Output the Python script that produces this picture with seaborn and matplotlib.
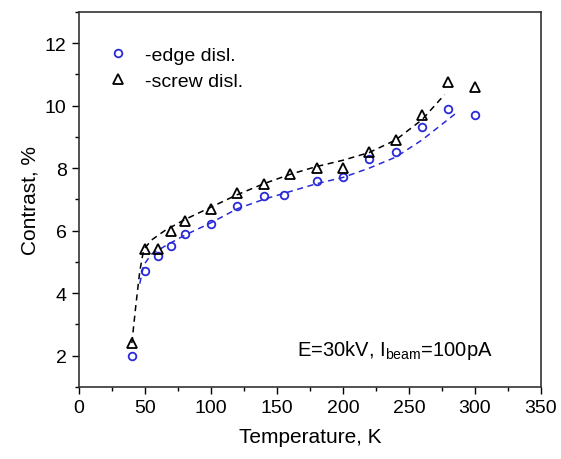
import pandas as pd
import matplotlib
matplotlib.use("Agg")
import matplotlib.pyplot as plt
import seaborn as sns
from matplotlib.ticker import MultipleLocator

# measured points
temp = [40, 50, 60, 70, 80, 100, 120, 140, 155, 180, 200, 220, 240, 260, 280, 300]
edge = [2.0, 4.7, 5.2, 5.5, 5.9, 6.2, 6.8, 7.1, 7.15, 7.6, 7.7, 8.3, 8.5, 9.3, 9.9, 9.7]
temp_s = [40, 50, 60, 70, 80, 100, 120, 140, 160, 180, 200, 220, 240, 260, 280, 300]
screw = [2.4, 5.4, 5.4, 6.0, 6.3, 6.7, 7.2, 7.5, 7.8, 8.0, 8.0, 8.5, 8.9, 9.7, 10.75, 10.6]

# dashed guide curves
fit_t_screw = [40, 43, 46, 49, 55, 65, 80, 100, 120, 140, 160, 180, 200, 220, 240, 260, 277]
fit_screw = [2.4, 3.6, 4.7, 5.4, 5.7, 6.0, 6.35, 6.75, 7.15, 7.5, 7.8, 8.05, 8.25, 8.5, 8.9, 9.55, 10.35]
fit_t_edge = [46, 49, 55, 65, 80, 100, 120, 140, 160, 180, 200, 220, 240, 260, 287]
fit_edge = [4.3, 4.9, 5.25, 5.5, 5.85, 6.25, 6.7, 7.0, 7.25, 7.5, 7.7, 8.0, 8.35, 8.9, 9.8]

sns.set_style("white")
plt.rcParams['font.family'] = ['Liberation Sans', 'DejaVu Sans']
plt.rcParams['text.color'] = 'black'
plt.rcParams['axes.labelcolor'] = 'black'
plt.rcParams['xtick.color'] = 'black'
plt.rcParams['ytick.color'] = 'black'

blue = "#2a2ad8"

fig = plt.figure(figsize=(5.61, 4.6), dpi=100)
ax = fig.add_axes([0.141, 0.157, 0.823, 0.815])

sns.lineplot(x=fit_t_screw, y=fit_screw, ax=ax, color="black", linestyle=(0, (4, 3)),
             linewidth=1.1, sort=False)
sns.lineplot(x=fit_t_edge, y=fit_edge, ax=ax, color=blue, linestyle=(0, (4, 3)),
             linewidth=1.1, sort=False)

ax.plot(temp, edge, linestyle="none", marker="o", markersize=5.5, markerfacecolor="none",
        markeredgecolor=blue, markeredgewidth=1.3, label="-edge disl.")
ax.plot(temp_s, screw, linestyle="none", marker="^", markersize=6.5, markerfacecolor="none",
        markeredgecolor="black", markeredgewidth=1.3, label="-screw disl.")

ax.set_xlim(0, 350)
ax.set_ylim(1, 13)
ax.xaxis.set_major_locator(MultipleLocator(50))
ax.xaxis.set_minor_locator(MultipleLocator(25))
ax.yaxis.set_major_locator(MultipleLocator(2))
ax.yaxis.set_minor_locator(MultipleLocator(1))
ax.tick_params(which="both", direction="out", bottom=True, left=True, labelsize=14, width=1)
ax.tick_params(which="major", length=5, pad=4)
ax.tick_params(which="minor", length=3)
for s in ax.spines.values():
    s.set_color("#333333")
    s.set_linewidth(1.2)

ax.set_xlabel("Temperature, K", fontsize=15, labelpad=8)
ax.set_ylabel("Contrast, %", fontsize=15, labelpad=4)

ax.legend(loc="upper left", frameon=False, fontsize=14, handletextpad=0.8,
          borderaxespad=0.3, labelspacing=0.45, handlelength=1.2, bbox_to_anchor=(0.03, 0.945))

ax.text(165, 2.2, r"E=30kV, I$_{\mathregular{beam}}$=100pA", fontsize=14.5, ha="left", va="center")

fig.savefig("out.png", dpi=100)
